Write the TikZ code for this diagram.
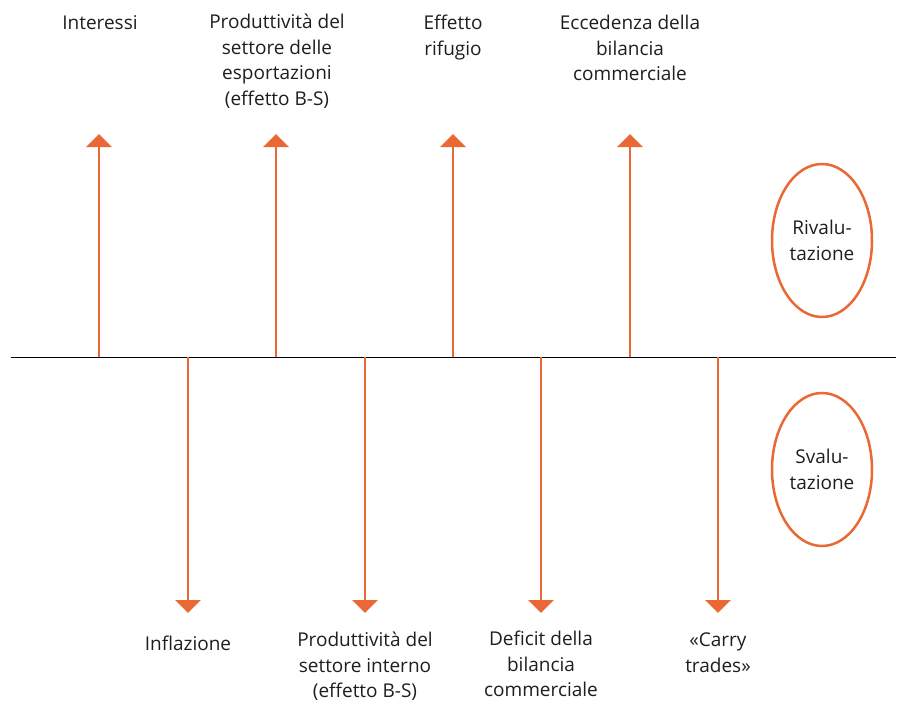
\documentclass[tikz,border=0pt]{standalone}
\usepackage{fontspec}
\setmainfont{Open Sans}
\usetikzlibrary{arrows.meta,shapes.geometric}
\definecolor{orng}{RGB}{233,104,52}
\definecolor{txt}{RGB}{30,30,30}
\begin{document}
\begin{tikzpicture}[x=1pt,y=-1pt,
  lbl/.style={align=center,text=txt,font=\fontsize{19}{25.5}\selectfont,inner sep=0pt,anchor=north},
  arr/.style={draw=orng,line width=2.5pt,-{Triangle[width=25pt,length=13pt]}},
  oval/.style={ellipse,draw=orng,line width=2.5pt,minimum width=100pt,minimum height=153pt,inner sep=0pt,align=center,text=txt,font=\fontsize{19}{25.7}\selectfont}]
\useasboundingbox (0,0) rectangle (898,701);
% axis
\coordinate (L) at (11,357.5);
\coordinate (R) at (896,357.5);
\draw[line width=1.6pt,black] (L) -- (R);
% up arrows
\foreach \n/\x in {u1/99,u2/276,u3/453,u4/630}{
  \coordinate (\n s) at (\x,357);
  \coordinate (\n t) at (\x,134);
  \draw[arr] (\n s) -- (\n t);
}
% down arrows
\foreach \n/\x in {d1/188,d2/365,d3/541,d4/718}{
  \coordinate (\n s) at (\x,357);
  \coordinate (\n t) at (\x,613);
  \draw[arr] (\n s) -- (\n t);
}
% top labels
\node[lbl] (t1) at (100,15) {Interessi};
\node[lbl] (t2) at (277,14) {Produttività del\\settore delle\\esportazioni\\(effetto B-S)};
\node[lbl] (t3) at (453,15) {Effetto\\rifugio};
\node[lbl] (t4) at (630,15) {Eccedenza della\\bilancia\\commerciale};
% bottom labels
\node[lbl] (b1) at (188,636) {Inflazione};
\node[lbl] (b2) at (365,632) {Produttività del\\settore interno\\(effetto B-S)};
\node[lbl] (b3) at (541,631) {Deficit della\\bilancia\\commerciale};
\node[lbl] (b4) at (718,633) {«Carry\\trades»};
% ellipses
\node[oval] (riv) at (822,240.5) {Rivalu-\\tazione};
\node[oval] (sva) at (822,469.5) {Svalu-\\tazione};
\end{tikzpicture}
\end{document}
